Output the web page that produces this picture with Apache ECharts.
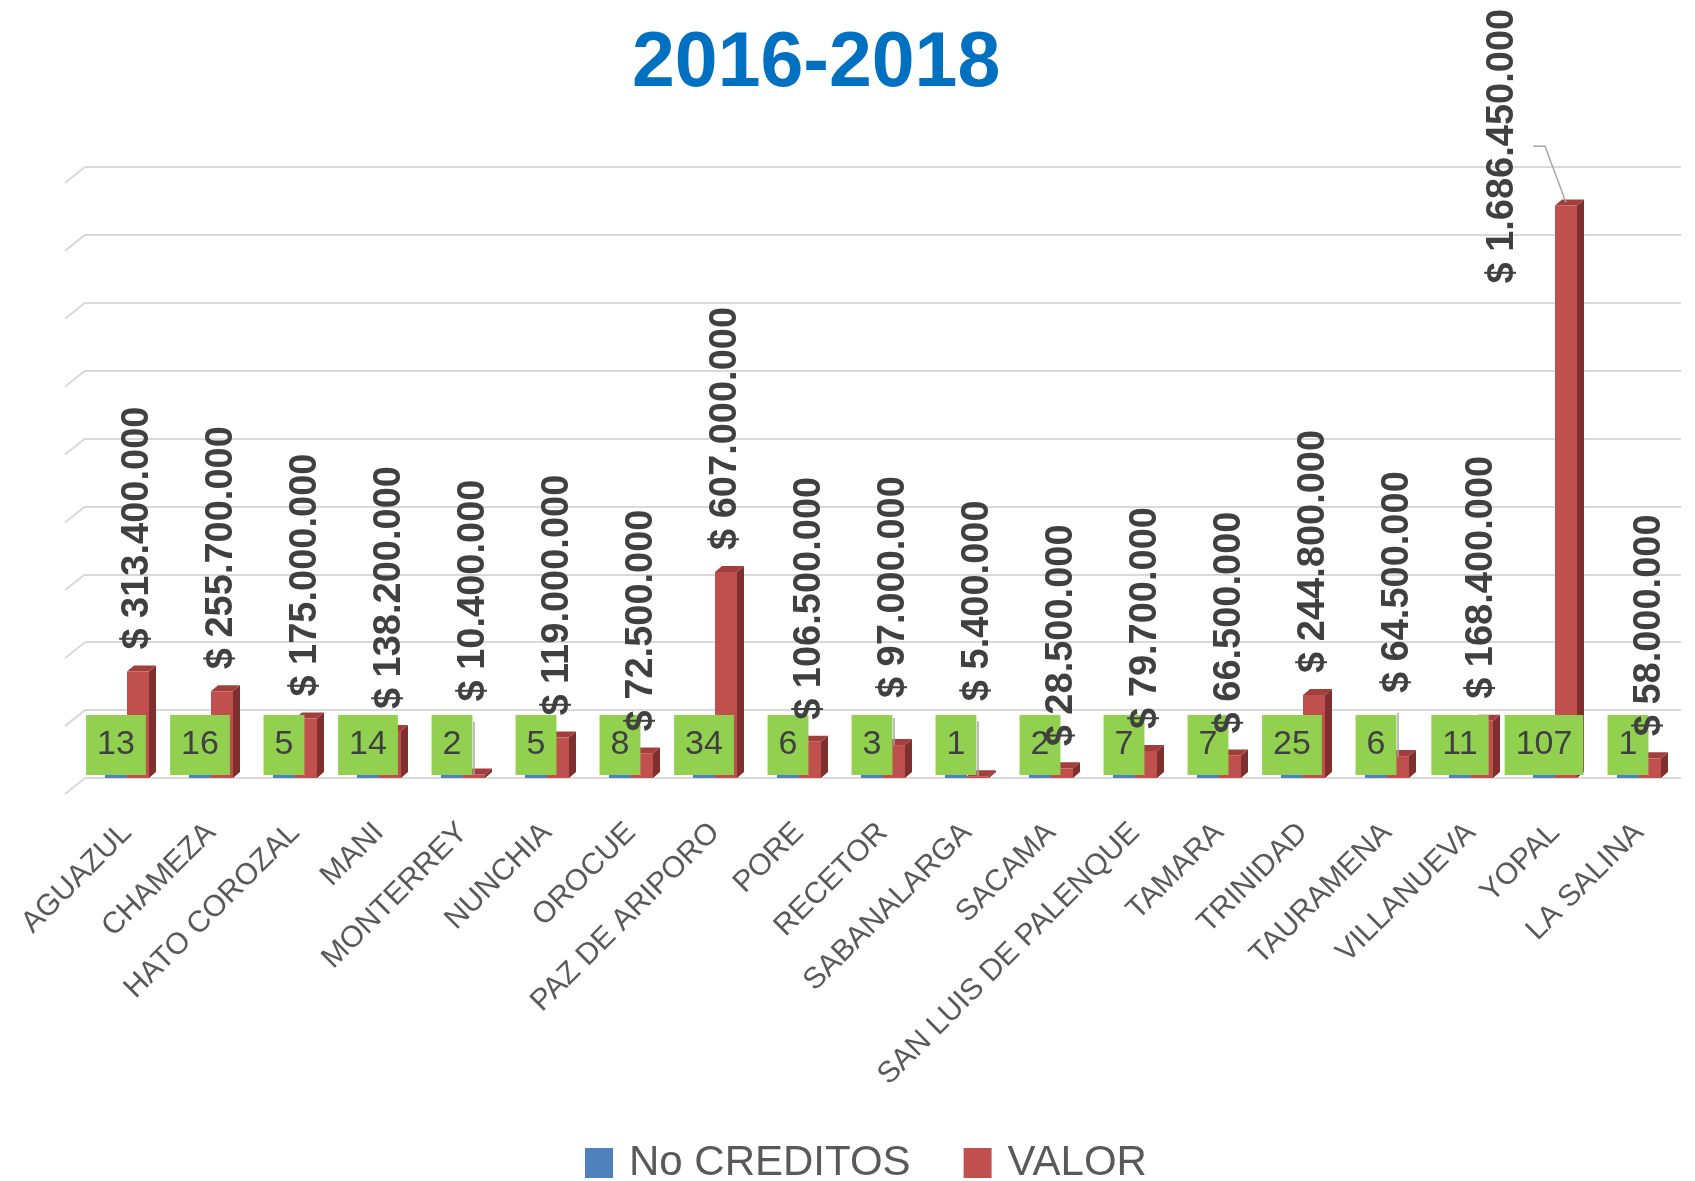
<!DOCTYPE html>
<html>
<head>
<meta charset="utf-8">
<script src="https://cdn.jsdelivr.net/npm/echarts@6/dist/echarts.min.js"></script>
<style>
  html, body { margin: 0; padding: 0; background: #fff; }
  #chart { width: 1695px; height: 1181px; }
</style>
</head>
<body>
<div id="chart"></div>
<script>
// datos
const municipios = ['AGUAZUL', 'CHAMEZA', 'HATO COROZAL', 'MANI', 'MONTERREY', 'NUNCHIA', 'OROCUE',
  'PAZ DE ARIPORO', 'PORE', 'RECETOR', 'SABANALARGA', 'SACAMA', 'SAN LUIS DE PALENQUE', 'TAMARA',
  'TRINIDAD', 'TAURAMENA', 'VILLANUEVA', 'YOPAL', 'LA SALINA']
const noCreditos = [13, 16, 5, 14, 2, 5, 8, 34, 6, 3, 1, 2, 7, 7, 25, 6, 11, 107, 1]
const valor = [313400000, 255700000, 175000000, 138200000, 10400000, 119000000, 72500000,
  607000000, 106500000, 97000000, 5400000, 28500000, 79700000, 66500000,
  244800000, 64500000, 168400000, 1686450000, 58000000]
const yMax = 1800000000
const yStep = 200000000

// estilos
const BAR_W = 22
const DEPTH_X = 7
const DEPTH_Y = 6
const LABEL_GAP = 22
const LABEL_FONT = 'bold 38px "Liberation Sans"'
// etiquetas que Excel desplazó (con línea guía)
const labelShift = {
  MONTERREY: { dy: -51 },
  RECETOR: { dy: -25 },
  SABANALARGA: { dy: -53 },
  TAURAMENA: { dy: -41 },
  YOPAL: { dx: -63, dy: 100 }
}

const measureCtx = document.createElement('canvas').getContext('2d')
measureCtx.font = LABEL_FONT

function pesos(v) {
  return '$ ' + String(v).replace(/\B(?=(\d{3})+(?!\d))/g, '.')
}

const chart = echarts.init(document.getElementById('chart'))

const option = {
  animation: false,
  title: {
    text: '2016-2018',
    left: 627,
    top: 21,
    textStyle: { color: '#0070C0', fontSize: 77, fontWeight: 'bold', fontFamily: 'Liberation Sans' }
  },
  legend: {
    data: ['No CREDITOS', 'VALOR'],
    left: 580,
    top: 1137,
    icon: 'rect',
    itemWidth: 28,
    itemHeight: 30,
    itemGap: 53,
    textStyle: { fontSize: 42, color: '#595959', fontFamily: 'Liberation Sans', padding: [0, 0, 0, 11] }
  },
  grid: { left: 85, right: 14, top: 167, bottom: 403, outerBoundsMode: 'none' },
  xAxis: {
    type: 'category',
    data: municipios,
    axisLine: { show: false },
    axisTick: { show: false },
    axisLabel: {
      interval: 0,
      rotate: 45,
      margin: 50,
      fontSize: 30,
      color: '#595959',
      fontFamily: 'Liberation Sans'
    }
  },
  yAxis: {
    type: 'value',
    min: 0,
    max: yMax,
    interval: yStep,
    axisLabel: { show: false },
    axisLine: { show: false },
    axisTick: { show: false },
    splitLine: { lineStyle: { color: '#D9D9D9', width: 2 } }
  },
  series: [
    {
      // caras laterales y superiores de las barras rojas (efecto 3D)
      name: 'VALOR 3D',
      type: 'custom',
      z: 1,
      silent: true,
      data: valor.map((v, i) => [i, v]),
      renderItem: function (params, api) {
        const i = api.value(0)
        const top = api.coord([i, api.value(1)])
        const base = api.coord([i, 0])
        const x0 = top[0]
        const x1 = top[0] + BAR_W
        const y0 = top[1]
        const yb = base[1]
        return {
          type: 'group',
          children: [
            {
              type: 'polygon',
              shape: { points: [[x1, y0], [x1 + DEPTH_X, y0 - DEPTH_Y], [x1 + DEPTH_X, yb - DEPTH_Y], [x1, yb]] },
              style: { fill: '#7F2F2D' }
            },
            {
              type: 'polygon',
              shape: { points: [[x0, y0], [x0 + DEPTH_X, y0 - DEPTH_Y], [x1 + DEPTH_X, y0 - DEPTH_Y], [x1, y0]] },
              style: { fill: '#A23F3C' }
            }
          ]
        }
      }
    },
    {
      name: 'No CREDITOS',
      type: 'bar',
      z: 3,
      data: noCreditos,
      barWidth: BAR_W,
      barGap: 0,
      barMinHeight: 5,
      itemStyle: { color: '#4F81BD' },
      label: {
        show: true,
        position: 'top',
        distance: -2,
        backgroundColor: '#92D050',
        padding: [10, 11],
        lineHeight: 40,
        fontSize: 34,
        color: '#404040',
        fontFamily: 'Liberation Sans'
      }
    },
    {
      name: 'VALOR',
      type: 'bar',
      z: 2,
      data: valor,
      barWidth: BAR_W,
      barGap: 0,
      itemStyle: { color: '#C0504D' }
    },
    {
      // etiquetas de VALOR, encima de los recuadros verdes
      name: 'VALOR etiquetas',
      type: 'custom',
      z: 5,
      silent: true,
      data: valor.map((v, i) => [i, v]),
      renderItem: function (params, api) {
        const i = api.value(0)
        const v = api.value(1)
        const top = api.coord([i, v])
        const x = top[0] + BAR_W / 2
        const s = labelShift[municipios[i]] || {}
        const lx = x + (s.dx || 0)
        const ly = top[1] - LABEL_GAP + (s.dy || 0)
        const txt = pesos(v)
        const children = [{
          type: 'text',
          x: lx,
          y: ly,
          rotation: Math.PI / 2,
          style: {
            text: txt,
            fill: '#404040',
            font: LABEL_FONT,
            align: 'left',
            verticalAlign: 'middle'
          }
        }]
        if (s.dx) {
          const mid = ly - measureCtx.measureText(txt).width / 2
          children.push({
            type: 'polyline',
            shape: { points: [[lx + 30, mid], [lx + 42, mid], [x, top[1] - DEPTH_Y / 2]] },
            style: { stroke: '#A6A6A6', lineWidth: 1.5, fill: null }
          })
        } else if (s.dy) {
          children.push({
            type: 'line',
            shape: { x1: lx, y1: ly + 20, x2: lx, y2: top[1] },
            style: { stroke: '#A6A6A6', lineWidth: 1.5 }
          })
        }
        return { type: 'group', children: children }
      }
    }
  ]
}

chart.setOption(option)

// pequeños tramos diagonales a la izquierda de cada línea de división
const stubs = []
for (let v = 0; v <= yMax; v += yStep) {
  const y = chart.convertToPixel({ yAxisIndex: 0 }, v)
  const x = chart.convertToPixel({ xAxisIndex: 0 }, 0) - 42
  stubs.push({
    type: 'polyline',
    silent: true,
    shape: { points: [[x - 20, y + 16], [x, y]] },
    style: { stroke: '#D9D9D9', lineWidth: 2, fill: null }
  })
}
chart.setOption({ graphic: stubs })
</script>
</body>
</html>
